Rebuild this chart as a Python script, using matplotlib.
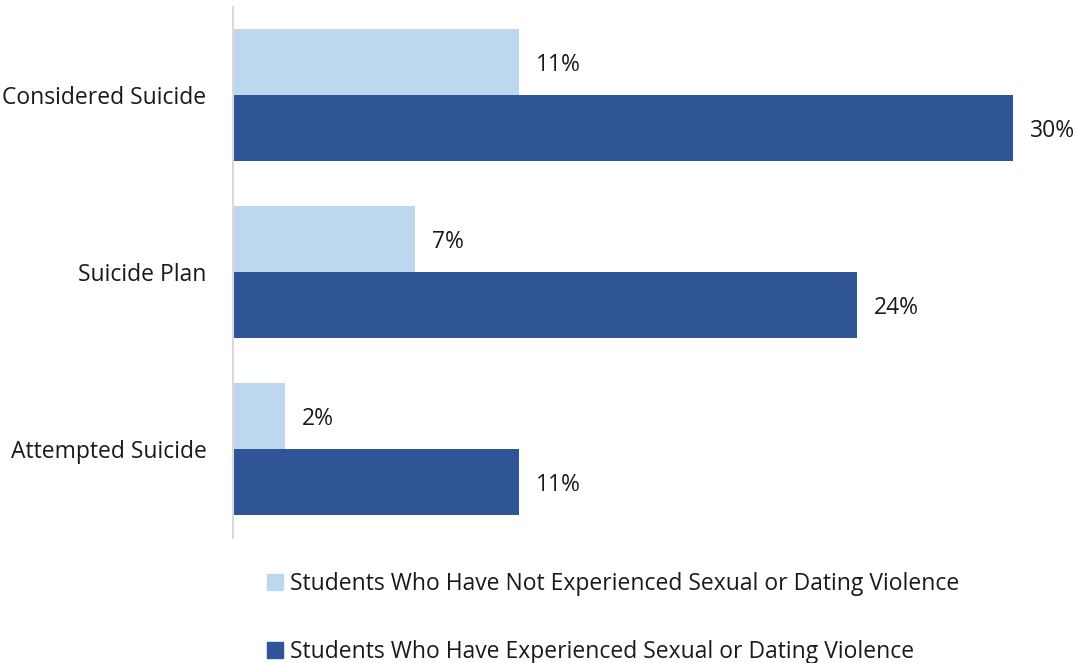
import matplotlib.pyplot as plt
import numpy as np
from matplotlib.patches import Patch

plt.rcParams['font.family'] = ['Open Sans', 'DejaVu Sans']

categories = ['Considered Suicide', 'Suicide Plan', 'Attempted Suicide']
not_experienced = [11, 7, 2]
experienced = [30, 24, 11]
series_names = ['Students Who Have Not Experienced Sexual or Dating Violence',
                'Students Who Have Experienced Sexual or Dating Violence']

light = '#BDD7EE'
dark = '#2F5597'
text_col = '#1a1a1a'
fs = 16.5

fig = plt.figure(figsize=(10.78, 6.63), dpi=100)
ax = fig.add_axes([233 / 1078, 1 - 537.5 / 663, 832 / 1078, 531 / 663])

y = np.arange(len(categories))
h = 0.373
b1 = ax.barh(y - h / 2, not_experienced, height=h, color=light)
b2 = ax.barh(y + h / 2, experienced, height=h, color=dark)

# value labels just past the bar ends
for bars, vals in [(b1, not_experienced), (b2, experienced)]:
    for bar, v in zip(bars, vals):
        ax.annotate(f'{v}%', (v, bar.get_y() + bar.get_height() / 2),
                    xytext=(12, -2), textcoords='offset points',
                    va='center', ha='left', fontsize=fs, color=text_col)

ax.set_xlim(0, 32)
ax.set_ylim(2.5, -0.5)
ax.set_yticks(y)
ax.set_yticklabels(categories, fontsize=fs, color=text_col)
ax.tick_params(axis='y', length=0, pad=19)
ax.set_xticks([])
for s in ['top', 'right', 'bottom']:
    ax.spines[s].set_visible(False)
ax.spines['left'].set_color('#d9d9d9')
ax.spines['left'].set_linewidth(1.5)

handles = [Patch(color=light), Patch(color=dark)]
fig.legend(handles, series_names, loc='upper left',
           bbox_to_anchor=(267 / 1078, 1 - 572 / 663), frameon=False,
           fontsize=fs, labelcolor=text_col, handlelength=0.7, handleheight=0.7,
           handletextpad=0.3, labelspacing=1.9, borderpad=0, borderaxespad=0)

fig.savefig('out.png', dpi=100)
